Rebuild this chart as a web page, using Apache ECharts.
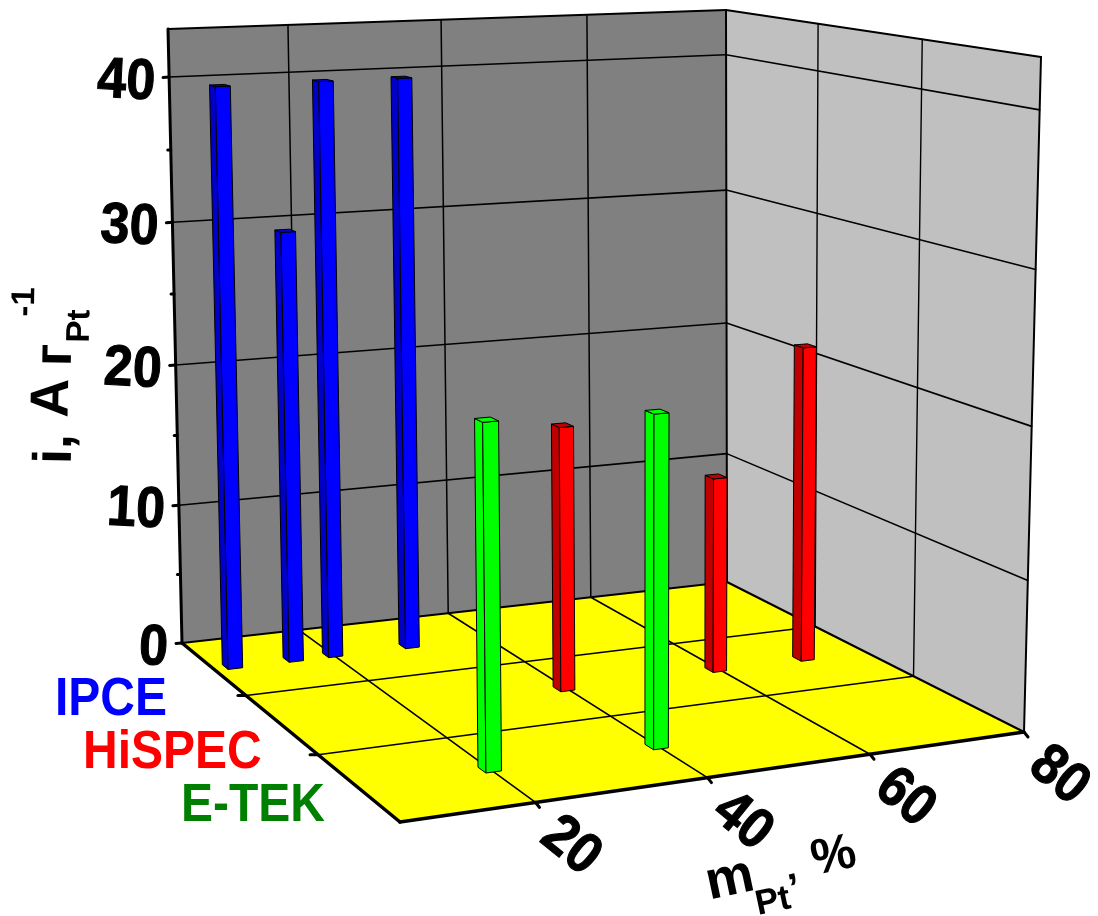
<!DOCTYPE html>
<html><head><meta charset="utf-8">
<style>html,body{margin:0;padding:0;background:#fff}#c{width:1098px;height:916px}</style>
<script src="https://cdn.jsdelivr.net/npm/echarts@6/dist/echarts.min.js"></script>
</head><body><div id="c"></div>
<script>
// ---- data ----
const seriesNames = ['IPCE', 'HiSPEC', 'E-TEK'];
const ipceX = [7.4, 15, 20, 29.9];
const ipceDepth = [2.5, 2.5, 2.5, 2.5];
const ipceValues = [40, 30, 40.05, 40.05];
const hispecX = [39.7, 59.65, 71.65];
const hispecDepth = [1.5, 1.5, 1.5];
const hispecValues = [18.05, 13.55, 22.05];
const etekX = [20, 39.9];
const etekDepth = [0.5, 0.5];
const etekValues = [22, 21.55];
const zTicks = [0, 10, 20, 30, 40];
const zMinorTicks = [5, 15, 25, 35];
const xTicks = [20, 40, 60, 80];
const depthTicks = [1, 2];

// ---- axis ranges ----
const xMin = 5, xMax = 80, depthMax = 3;
const zScaleA = 0.02225, zScaleC = -0.00086;
const zMax = 1 / (zScaleA - zScaleC);
const FONT = '"Liberation Sans", Arial, sans-serif';

// ---- perspective scale, fitted to the plot box corners ----
const box = {
  f00: [400, 822], f10: [1024, 732], f11: [727, 582], f01: [182, 643],
  t00: [389, 86], t10: [1041, 57], t11: [726, 10], t01: [168, 29]
};
function squareMap(a, b, c, d) {
  const dx1 = b[0] - c[0], dx2 = d[0] - c[0], sx = a[0] - b[0] + c[0] - d[0];
  const dy1 = b[1] - c[1], dy2 = d[1] - c[1], sy = a[1] - b[1] + c[1] - d[1];
  const den = dx1 * dy2 - dx2 * dy1;
  const G = (sx * dy2 - dx2 * sy) / den, H = (dx1 * sy - sx * dy1) / den;
  const Ax = b[0] - a[0] + G * b[0], Bx = d[0] - a[0] + H * d[0];
  const Ay = b[1] - a[1] + G * b[1], By = d[1] - a[1] + H * d[1];
  return function (u, v) {
    const n = G * u + H * v + 1;
    return [(Ax * u + Bx * v + a[0]) / n, (Ay * u + By * v + a[1]) / n];
  };
}
const floorMap = squareMap(box.f00, box.f10, box.f11, box.f01);
const ceilMap = squareMap(box.t00, box.t10, box.t11, box.t01);
function project(x, depth, z) {
  const u = (x - xMin) / (xMax - xMin), v = depth / depthMax;
  const w = zScaleA * z / (1 + zScaleC * z);
  const f = floorMap(u, v), t = ceilMap(u, v);
  return [f[0] + w * (t[0] - f[0]), f[1] + w * (t[1] - f[1])];
}

function poly(api, pts, fill, stroke, lw) {
  return { type: 'polygon', shape: { points: pts.map(function (p) { return api.coord(p); }) },
    style: { fill: fill, stroke: stroke || null, lineWidth: lw || 0, lineJoin: 'round' } };
}
function line(api, a, b, lw) {
  const p = api.coord(a), q = api.coord(b);
  return { type: 'line', shape: { x1: p[0], y1: p[1], x2: q[0], y2: q[1] },
    style: { stroke: '#000', lineWidth: lw, lineCap: 'round' } };
}
function label(api, text, at, dx, dy, rot, size, alignX) {
  const p = api.coord(at);
  return { type: 'text', x: p[0] + dx, y: p[1] + dy, rotation: rot, scaleY: 1.1,
    style: { text: text, fill: '#000', stroke: '#000', lineWidth: 1, font: 'bold ' + size + 'px ' + FONT, textAlign: alignX || 'center', textVerticalAlign: 'middle' } };
}

function renderFrame(params, api) {
  const ch = [];
  ch.push(poly(api, [project(xMin, 3, 0), project(xMax, 3, 0), project(xMax, 3, zMax), project(xMin, 3, zMax)], '#808080'));
  ch.push(poly(api, [project(xMax, 3, 0), project(xMax, 0, 0), project(xMax, 0, zMax), project(xMax, 3, zMax)], '#c0c0c0'));
  ch.push(poly(api, [project(xMin, 0, 0), project(xMax, 0, 0), project(xMax, 3, 0), project(xMin, 3, 0)], '#ffff00'));
  zTicks.slice(1).forEach(function (z) {
    ch.push(line(api, project(xMin, 3, z), project(xMax, 3, z), 1.6));
    ch.push(line(api, project(xMax, 3, z), project(xMax, 0, z), 1.6));
  });
  xTicks.slice(0, -1).forEach(function (x) {
    ch.push(line(api, project(x, 3, 0), project(x, 3, zMax), 1.5));
    ch.push(line(api, project(x, 0, 0), project(x, 3, 0), 1.6));
  });
  depthTicks.forEach(function (d) {
    ch.push(line(api, project(xMax, d, 0), project(xMax, d, zMax), 1.4));
    ch.push(line(api, project(xMin, d, 0), project(xMax, d, 0), 1.6));
  });
  // box edges
  ch.push(line(api, project(xMin, 3, 0), project(xMin, 3, zMax), 3));
  ch.push(line(api, project(xMin, 3, zMax), project(xMax, 3, zMax), 2));
  ch.push(line(api, project(xMax, 3, zMax), project(xMax, 0, zMax), 2));
  ch.push(line(api, project(xMax, 3, 0), project(xMax, 3, zMax), 2));
  ch.push(line(api, project(xMax, 0, 0), project(xMax, 0, zMax), 2));
  ch.push(line(api, project(xMin, 3, 0), project(xMax, 3, 0), 2));
  ch.push(line(api, project(xMax, 3, 0), project(xMax, 0, 0), 2.2));
  ch.push(line(api, project(xMin, 0, 0), project(xMax, 0, 0), 3.5));
  ch.push(line(api, project(xMin, 0, 0), project(xMin, 3, 0), 3.5));
  // ticks and their labels
  zTicks.forEach(function (z) {
    const p = project(xMin, 3, z);
    ch.push(line(api, [p[0] - 6, p[1] + 0.5], p, 3));
    ch.push(label(api, String(z), p, -14, 6.5, -0.05, 52, 'right'));
  });
  zMinorTicks.forEach(function (z) {
    const p = project(xMin, 3, z);
    ch.push(line(api, [p[0] - 3, p[1]], p, 3));
  });
  xTicks.forEach(function (x) {
    const p = project(x, 0, 0);
    ch.push(line(api, p, [p[0] + 4, p[1] + 5], 3));
    ch.push(label(api, String(x), p, 35, 44, -0.68, 52));
  });
  depthTicks.forEach(function (d) {
    const p = project(xMin, d, 0);
    ch.push(line(api, p, [p[0] - 8, p[1]], 3));
  });
  return { type: 'group', children: ch };
}

const barHalfX = 0.9, barHalfD = 0.045;
const faceColors = {
  IPCE: ['#0000ff', '#0000c8', '#0000c8'],
  HiSPEC: ['#ff0000', '#c00000', '#c00000'],
  'E-TEK': ['#00ff00', '#00ff00', '#00ff00']
};
function renderBar(params, api) {
  const x = api.value(0), d = api.value(1), z = api.value(2);
  const c = faceColors[seriesNames[params.seriesIndex - 1]];
  const x0 = x - barHalfX, x1 = x + barHalfX, d0 = d - barHalfD, d1 = d + barHalfD;
  return { type: 'group', children: [
    poly(api, [project(x0, d1, 0), project(x0, d0, 0), project(x0, d0, z), project(x0, d1, z)], c[1], '#000', 1),
    poly(api, [project(x0, d0, 0), project(x1, d0, 0), project(x1, d0, z), project(x0, d0, z)], c[0], '#000', 1),
    poly(api, [project(x0, d0, z), project(x1, d0, z), project(x1, d1, z), project(x0, d1, z)], c[2], '#000', 1)
  ] };
}
function zipBars(xs, ds, vs) { return xs.map(function (x, i) { return [x, ds[i], vs[i]]; }); }
function barSeries(name, data) {
  return { name: name, type: 'custom', coordinateSystem: 'cartesian2d', renderItem: renderBar, data: data,
    clip: false, silent: true, animation: false, encode: { x: 0, y: 1 } };
}
function txt(text, x, y, size, color, rot, align, sy) {
  return { type: 'text', x: x, y: y, rotation: (rot || 0) * Math.PI / 180, scaleY: sy || 1, silent: true,
    style: { text: text, fill: color || '#000', font: 'bold ' + size + 'px ' + FONT, textAlign: align || 'center', textVerticalAlign: 'middle' } };
}

const chart = echarts.init(document.getElementById('c'), null, { renderer: 'canvas' });
chart.setOption({
  animation: false,
  backgroundColor: '#ffffff',
  grid: { left: 0, right: 0, top: 0, bottom: 0 },
  xAxis: { type: 'value', min: 0, max: 1098, show: false },
  yAxis: { type: 'value', min: 0, max: 916, inverse: true, show: false },
  series: [
    { type: 'custom', renderItem: renderFrame, data: [[0, 0]], clip: false, silent: true, animation: false },
    barSeries(seriesNames[0], zipBars(ipceX, ipceDepth, ipceValues)),
    barSeries(seriesNames[1], zipBars(hispecX, hispecDepth, hispecValues)),
    barSeries(seriesNames[2], zipBars(etekX, etekDepth, etekValues))
  ],
  graphic: { elements: [
    txt(seriesNames[0], 55, 700, 48, '#0000ff', 0, 'left', 1.1),
    txt(seriesNames[1], 83, 753, 48, '#ff0000', 0, 'left', 1.1),
    txt(seriesNames[2], 181, 806, 48, '#008000', 0, 'left', 1.1),
    txt('i,', 56, 449, 54, '#000', 89),
    txt('A', 53, 398, 54, '#000', 89),
    txt('г', 56, 355, 54, '#000', 89),
    txt('Pt', 80, 326, 33, '#000', 89),
    txt('-1', 25, 302, 33, '#000', 89),
    txt('m', 730, 880, 54, '#000', 12),
    txt('Pt', 773, 902, 35, '#000', 12),
    txt('’', 795, 890, 40, '#000', 12),
    txt('%', 834, 857, 50, '#000', 12)
  ] }
});
</script></body></html>
